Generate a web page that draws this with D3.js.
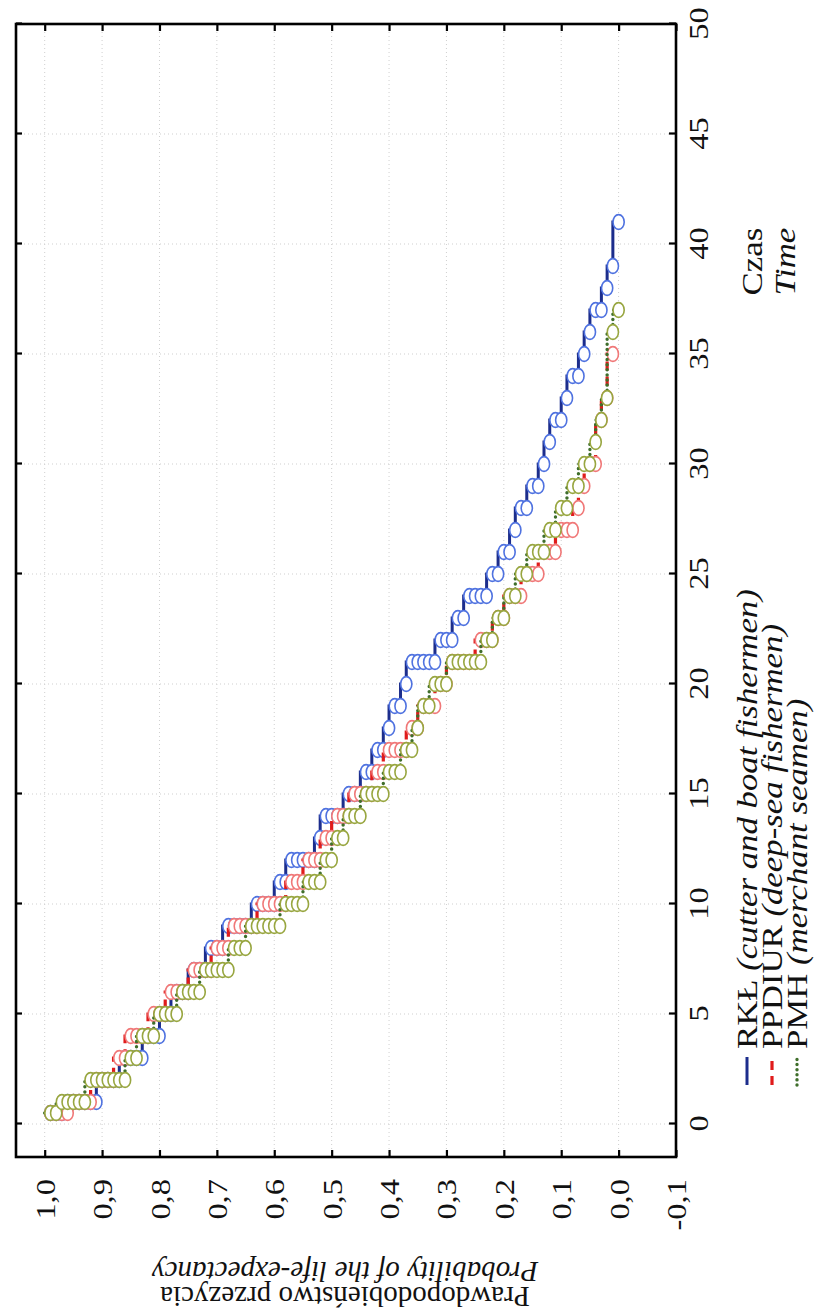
<!DOCTYPE html>
<html>
<head>
<meta charset="utf-8">
<script src="https://cdn.jsdelivr.net/npm/d3@7"></script>
<style>
  html, body { margin: 0; padding: 0; background: #fff; }
  svg { display: block; }
</style>
</head>
<body>
<script>
// ---------------- DATA ----------------
const timeTicks = [0, 5, 10, 15, 20, 25, 30, 35, 40, 45, 50];
const timeTickLabels = ["0", "5", "10", "15", "20", "25", "30", "35", "40", "45", "50"];
const probTicks = [-0.1, 0.0, 0.1, 0.2, 0.3, 0.4, 0.5, 0.6, 0.7, 0.8, 0.9, 1.0];
const probTickLabels = ["-0,1", "0,0", "0,1", "0,2", "0,3", "0,4", "0,5", "0,6", "0,7", "0,8", "0,9", "1,0"];

// cohort size of each group (one circle = one death = 1/cohort)
const cohortSize = [100, 100, 100];

// RKŁ (cutter and boat fishermen)
const rklTimes = [0.5, 1, 2, 3, 4, 5, 6, 7, 8, 9, 10, 11, 12, 13, 14, 15, 16, 17, 18, 19, 20,
  21, 22, 23, 24, 25, 26, 27, 28, 29, 30, 31, 32, 33, 34, 35, 36, 37, 38, 39, 41];
const rklSurvival = [0.97, 0.91, 0.87, 0.83, 0.80, 0.78, 0.75, 0.72, 0.69, 0.64, 0.60, 0.58, 0.53, 0.52,
  0.48, 0.45, 0.43, 0.41, 0.40, 0.38, 0.37, 0.32, 0.29, 0.27, 0.23, 0.21, 0.19, 0.18, 0.16, 0.14,
  0.13, 0.12, 0.10, 0.09, 0.07, 0.06, 0.05, 0.03, 0.02, 0.01, 0.00];

// PPDIUR (deep-sea fishermen)
const ppdiurTimes = [0.5, 1, 2, 3, 4, 5, 6, 7, 8, 9, 10, 11, 12, 13, 14, 15, 16, 17, 18, 19, 20,
  21, 22, 23, 24, 25, 26, 27, 28, 29, 30, 32, 33, 35];
const ppdiurSurvival = [0.96, 0.92, 0.88, 0.86, 0.82, 0.79, 0.75, 0.71, 0.68, 0.63, 0.58, 0.55, 0.52,
  0.50, 0.47, 0.43, 0.41, 0.37, 0.35, 0.32, 0.30, 0.25, 0.22, 0.20, 0.17, 0.14, 0.11, 0.08, 0.07,
  0.06, 0.04, 0.03, 0.02, 0.01];

// PMH (merchant seamen)
const pmhTimes = [0.5, 1, 2, 3, 4, 5, 6, 7, 8, 9, 10, 11, 12, 13, 14, 15, 16, 17, 18, 19, 20,
  21, 22, 23, 24, 25, 26, 27, 28, 29, 30, 31, 32, 33, 36, 37];
const pmhSurvival = [0.98, 0.93, 0.86, 0.84, 0.81, 0.77, 0.73, 0.68, 0.65, 0.59, 0.55, 0.52, 0.50,
  0.48, 0.45, 0.41, 0.38, 0.36, 0.35, 0.33, 0.30, 0.24, 0.22, 0.20, 0.18, 0.16, 0.13, 0.11, 0.09,
  0.07, 0.05, 0.04, 0.03, 0.02, 0.01, 0.00];

const seriesNames = ["RKŁ", "PPDIUR", "PMH"];
const seriesDescriptions = ["(cutter and boat fishermen)", "(deep-sea fishermen)", "(merchant seamen)"];

// ---------------- STYLE ----------------
const W = 819, H = 1315;
const serif = "'Liberation Serif','Times New Roman',serif";
const stretch = 1.16;           // horizontal stretch of text along the time direction
const styles = [
  { line: "#1c2d8c", marker: "#4f72e0", dash: null, width: 3, cap: "butt" },
  { line: "#e01b1b", marker: "#f07878", dash: "9,6", width: 3.2, cap: "butt" },
  { line: "#3f6e2b", marker: "#98a640", dash: "0.1,5", width: 3.4, cap: "round" }
];

const series = [
  { times: rklTimes, surv: rklSurvival, n: cohortSize[0] },
  { times: ppdiurTimes, surv: ppdiurSurvival, n: cohortSize[1] },
  { times: pmhTimes, surv: pmhSurvival, n: cohortSize[2] }
];

// ---------------- CHART ----------------
const svg = d3.select("body").append("svg").attr("width", W).attr("height", H);
svg.append("rect").attr("width", W).attr("height", H).attr("fill", "#fff");

// whole chart is rotated 90° counter-clockwise
const g = svg.append("g").attr("transform", `translate(0,${H}) rotate(-90)`);

const x = d3.scaleLinear().domain([-1.5, 50]).range([158, 1291]);   // time
const y = d3.scaleLinear().domain([-0.1, 1.05]).range([676, 16]);   // probability

// grid
const grid = g.append("g").attr("stroke", "#cfcfcf").attr("stroke-width", 1).attr("stroke-dasharray", "1,3");
grid.selectAll(".gx").data(timeTicks.filter(t => t < 50)).join("line")
  .attr("x1", d => x(d)).attr("x2", d => x(d)).attr("y1", y(1.05)).attr("y2", y(-0.1));
grid.selectAll(".gy").data(probTicks.filter(p => p > -0.1)).join("line")
  .attr("x1", x(-1.5)).attr("x2", x(50)).attr("y1", d => y(d)).attr("y2", d => y(d));

// series
const lineGen = d3.line().x(d => x(d[0])).y(d => y(d[1]));
const plot = g.append("g");

series.forEach((s, k) => {
  const st = styles[k];
  const pts = [];
  const circles = [];
  let prev = 1;
  s.times.forEach((t, i) => {
    const cur = s.surv[i];
    pts.push([t, prev]);
    pts.push([t, cur]);
    const deaths = Math.round((prev - cur) * s.n);
    for (let j = 1; j <= deaths; j++) circles.push([t, prev - j / s.n]);
    prev = cur;
  });
  plot.append("path").datum(pts)
    .attr("d", lineGen).attr("fill", "none")
    .attr("stroke", st.line).attr("stroke-width", st.width)
    .attr("stroke-linecap", st.cap)
    .attr("stroke-dasharray", st.dash);
  plot.append("g").selectAll("ellipse").data(circles).join("ellipse")
    .attr("cx", d => x(d[0])).attr("cy", d => y(d[1]))
    .attr("rx", 7.4).attr("ry", 5.6)
    .attr("fill", "#fff").attr("stroke", st.marker).attr("stroke-width", 1.6);
});

// frame
g.append("rect")
  .attr("x", x(-1.5)).attr("y", y(1.05))
  .attr("width", x(50) - x(-1.5)).attr("height", y(-0.1) - y(1.05))
  .attr("fill", "none").attr("stroke", "#000").attr("stroke-width", 2.6);

// axes
function styleAxis(sel) {
  sel.select(".domain").remove();
  sel.selectAll(".tick line").attr("stroke", "#000").attr("stroke-width", 2.2);
  sel.attr("font-family", serif).attr("font-size", 28);
  sel.selectAll(".tick text").attr("fill", "#111");
}

const axBottom = g.append("g").attr("transform", `translate(0,${y(-0.1)})`)
  .call(d3.axisBottom(x).tickValues(timeTicks)
    .tickFormat((d, i) => timeTickLabels[i]).tickSizeInner(-7).tickSizeOuter(0).tickPadding(12));
styleAxis(axBottom);
axBottom.selectAll(".tick text").attr("y", 32).attr("dy", 0).attr("transform", `scale(${stretch},1)`);

const axLeft = g.append("g").attr("transform", `translate(${x(-1.5)},0)`)
  .call(d3.axisLeft(y).tickValues(probTicks)
    .tickFormat((d, i) => probTickLabels[i]).tickSizeInner(-7).tickSizeOuter(0).tickPadding(18));
styleAxis(axLeft);
axLeft.selectAll(".tick text").attr("x", -19).attr("dy", "0.34em").attr("transform", `scale(${stretch},1)`);

const axTop = g.append("g").attr("transform", `translate(0,${y(1.05)})`)
  .call(d3.axisTop(x).tickValues(timeTicks).tickFormat("").tickSizeInner(-6).tickSizeOuter(0));
styleAxis(axTop);

const axRight = g.append("g").attr("transform", `translate(${x(50)},0)`)
  .call(d3.axisRight(y).tickValues(probTicks).tickFormat("").tickSizeInner(-7).tickSizeOuter(0));
styleAxis(axRight);

// legend
const legendBase = [757, 782, 807];
seriesNames.forEach((name, k) => {
  const st = styles[k];
  const v = legendBase[k];
  g.append("line")
    .attr("x1", x(-1.5) + 72).attr("x2", x(-1.5) + 100)
    .attr("y1", v - 10).attr("y2", v - 10)
    .attr("stroke", st.line).attr("stroke-width", st.width)
    .attr("stroke-linecap", st.cap).attr("stroke-dasharray", st.dash);
  const t = g.append("text")
    .attr("transform", `translate(${x(-1.5) + 108},${v}) scale(${stretch},1)`)
    .attr("font-family", serif).attr("font-size", 30).attr("fill", "#111");
  t.append("tspan").text(name + " ");
  t.append("tspan").attr("font-style", "italic").text(seriesDescriptions[k]);
});

// axis titles
g.append("text")
  .attr("transform", `translate(${x(39.2)},762) scale(${stretch},1)`)
  .attr("text-anchor", "middle").attr("font-family", serif).attr("font-size", 30).attr("fill", "#111")
  .text("Czas");
g.append("text")
  .attr("transform", `translate(${x(39.2)},795) scale(${stretch},1)`)
  .attr("text-anchor", "middle").attr("font-family", serif).attr("font-size", 30)
  .attr("font-style", "italic").attr("fill", "#111")
  .text("Time");

g.append("text")
  .attr("transform", `translate(53,345) rotate(-90)`)
  .attr("text-anchor", "middle").attr("font-family", serif).attr("font-size", 29)
  .attr("font-style", "italic").attr("fill", "#111")
  .text("Probability of the life-expectancy");
g.append("text")
  .attr("transform", `translate(28,345) rotate(-90)`)
  .attr("text-anchor", "middle").attr("font-family", serif).attr("font-size", 29).attr("fill", "#111")
  .text("Prawdopodobieństwo przezycia");
</script>
</body>
</html>
